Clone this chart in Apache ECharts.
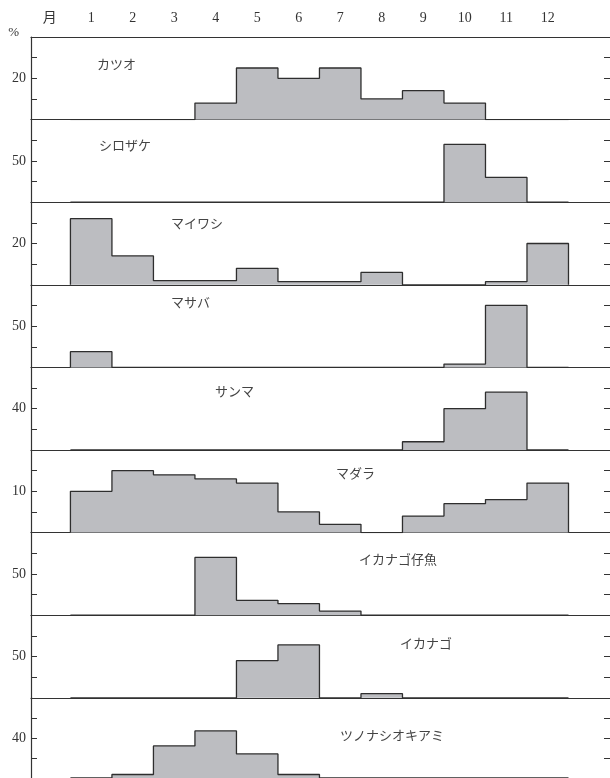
<!DOCTYPE html>
<html>
<head>
<meta charset="utf-8">
<script src="https://cdn.jsdelivr.net/npm/echarts@6/dist/echarts.min.js"></script>
<style>
html,body{margin:0;padding:0;background:#fff;}
#chart{width:610px;height:778px;}
</style>
</head>
<body>
<div id="chart"></div>
<script>
// ---- data ----
const monthLabels = ['月','1','2','3','4','5','6','7','8','9','10','11','12'];
const speciesNames = ['カツオ','シロザケ','マイワシ','マサバ','サンマ','マダラ','イカナゴ仔魚','イカナゴ','ツノナシオキアミ'];
const katsuo    = [0,0,0,8,25,20,25,10,14,8,0,0];
const shirozake = [0,0,0,0,0,0,0,0,0,70,30,0];
const maiwashi  = [32,14,2,2,8,1.5,1.5,6,0,0,1.5,20];
const masaba    = [19,0,0,0,0,0,0,0,0,4,75,0];
const sanma     = [0,0,0,0,0,0,0,0,8,40,56,0];
const madara    = [10,15,14,13,12,5,2,0,4,7,8,12];
const ikanagoLarva = [0,0,0,70,18,14,5,0,0,0,0,0];
const ikanago   = [0,0,0,0,45,64,0,5,0,0,0,0];
const tsunonashi = [0,3.5,32,47,24,3.5,0,0,0,0,0,0];
const seriesValues = [katsuo, shirozake, maiwashi, masaba, sanma, madara, ikanagoLarva, ikanago, tsunonashi];
const yMax = [40,100,40,100,80,20,100,100,80];
const yLabelValue = [20,50,20,50,40,10,50,50,40];
// label layout (pixels)
const nameLeft = [97,99,171,171,215,336,359,400,340];
const nameTop  = [58,139,217,296,385,467,553,637,729];

// ---- layout ----
const GL = 31, GW = 580, GT = 37, GH = 82.6;
const XMIN = -0.95, XMAX = 13;
const serifFont = "'Liberation Serif', 'DejaVu Serif', serif";
const cjkFont = "'Noto Sans CJK JP', sans-serif";
const lineColor = '#333';

const grids = [], xAxes = [], yAxes = [], series = [], titles = [];
seriesValues.forEach((vals, i) => {
  grids.push({left: GL, width: GW, top: GT + i*GH, height: GH});
  xAxes.push({
    type: 'value', gridIndex: i, min: XMIN, max: XMAX, position: 'bottom',
    axisLine: {show: true, onZero: false, lineStyle: {color: lineColor, width: 1.2}},
    axisTick: {show: false}, axisLabel: {show: false}, splitLine: {show: false}
  });
  const yBase = {
    type: 'value', gridIndex: i, min: 0, max: yMax[i], interval: yMax[i]/4,
    splitLine: {show: false}
  };
  yAxes.push(Object.assign({}, yBase, {
    position: 'left',
    axisLine: {show: true, onZero: false, lineStyle: {color: lineColor, width: 1.2}},
    axisTick: {show: true, inside: true, length: 6, lineStyle: {color: lineColor}},
    axisLabel: {
      show: true, margin: 5, fontSize: 14, fontFamily: serifFont, color: '#333',
      formatter: (v) => (v === yLabelValue[i] ? String(v) : '')
    },
    name: i === 0 ? '%' : '', nameLocation: 'end', nameGap: 4,
    nameTextStyle: {fontFamily: serifFont, fontSize: 13, color: '#333', align: 'right', verticalAlign: 'middle', padding: [0, 12, 0, 0]}
  }));
  yAxes.push(Object.assign({}, yBase, {
    position: 'right',
    axisLine: {show: false, onZero: false},
    axisTick: {show: true, inside: true, length: 6, lineStyle: {color: lineColor}},
    axisLabel: {show: false}
  }));
  const pts = [[0, 0]];
  vals.forEach((v, k) => pts.push([k, v]));
  pts.push([vals.length, vals[vals.length-1]]);
  pts.push([vals.length, 0]);
  series.push({
    type: 'line', xAxisIndex: i, yAxisIndex: 2*i, data: pts, step: 'end',
    symbol: 'none', showSymbol: false, silent: true,
    lineStyle: {color: '#2e2e2e', width: 1.3},
    areaStyle: {color: '#bcbdc1', opacity: 1},
    z: 3
  });
  titles.push({
    text: speciesNames[i], left: nameLeft[i], top: nameTop[i], padding: 0,
    textStyle: {fontFamily: cjkFont, fontSize: 13, fontWeight: 'normal', color: '#444'}
  });
});
// top month axis
xAxes.push({
  type: 'value', gridIndex: 0, min: XMIN, max: XMAX, position: 'top',
  axisLine: {show: true, onZero: false, lineStyle: {color: lineColor, width: 1.2}},
  axisTick: {show: false}, splitLine: {show: false},
  axisLabel: {
    show: true, margin: 12, fontSize: 14, fontFamily: "'Liberation Serif', 'Noto Sans CJK JP', serif", color: '#333',
    customValues: monthLabels.map((_, k) => k - 0.5),
    formatter: (v) => monthLabels[Math.round(v + 0.5)] || ''
  }
});

const chart = echarts.init(document.getElementById('chart'), null, {renderer: 'canvas'});
chart.setOption({
  animation: false,
  backgroundColor: '#fff',
  title: titles,
  grid: grids,
  xAxis: xAxes,
  yAxis: yAxes,
  series: series
});
</script>
</body>
</html>
